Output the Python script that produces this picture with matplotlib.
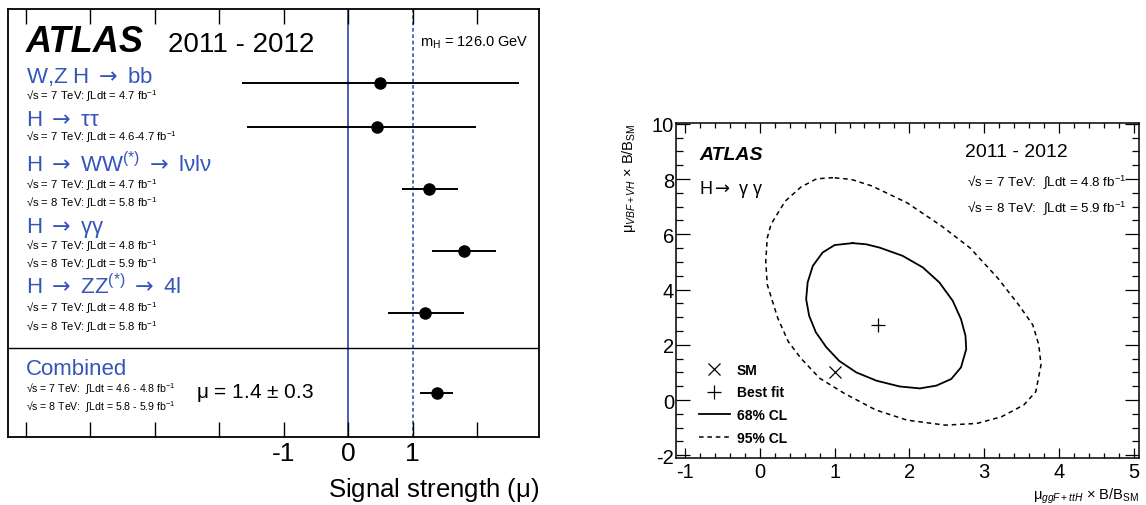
import matplotlib
matplotlib.use("Agg")
import matplotlib.pyplot as plt
from matplotlib.lines import Line2D
from matplotlib.ticker import MultipleLocator

plt.rcParams['font.family'] = ['Liberation Sans', 'DejaVu Sans']
plt.rcParams['mathtext.fontset'] = 'custom'
plt.rcParams['mathtext.rm'] = 'Liberation Sans'
plt.rcParams['mathtext.it'] = 'Liberation Sans:italic'
plt.rcParams['mathtext.bf'] = 'Liberation Sans:bold'
plt.rcParams['mathtext.sf'] = 'DejaVu Sans'
plt.rcParams['axes.unicode_minus'] = False

ARROW = r"$\mathsf{\rightarrow}$"

# ---- left panel data: signal strength per channel ----
channels = ["W,Z H " + ARROW + " bb", "H " + ARROW + " ττ",
            "H " + ARROW + r" W$\mathrm{W}^{(*)}$ " + ARROW + " lνlν",
            "H " + ARROW + " γγ",
            "H " + ARROW + r" Z$\mathrm{Z}^{(*)}$ " + ARROW + " 4l"]
lumi_lines = [
    [r"√s = 7 TeV: ∫Ldt = 4.7 fb$^{-1}$"],
    [r"√s = 7 TeV: ∫Ldt = 4.6-4.7 fb$^{-1}$"],
    [r"√s = 7 TeV: ∫Ldt = 4.7 fb$^{-1}$", r"√s = 8 TeV: ∫Ldt = 5.8 fb$^{-1}$"],
    [r"√s = 7 TeV: ∫Ldt = 4.8 fb$^{-1}$", r"√s = 8 TeV: ∫Ldt = 5.9 fb$^{-1}$"],
    [r"√s = 7 TeV: ∫Ldt = 4.8 fb$^{-1}$", r"√s = 8 TeV: ∫Ldt = 5.8 fb$^{-1}$"],
]
mu = [0.49, 0.44, 1.26, 1.79, 1.19]
mu_lo = [2.14, 2.01, 0.43, 0.49, 0.58]
mu_hi = [2.16, 1.54, 0.45, 0.50, 0.60]

comb_lumi = [r"√s = 7 TeV:  ∫Ldt = 4.6 - 4.8 fb$^{-1}$",
             r"√s = 8 TeV:  ∫Ldt = 5.8 - 5.9 fb$^{-1}$"]
mu_comb = 1.37
mu_comb_lo = 0.25
mu_comb_hi = 0.26

# ---- right panel data: H->gamma gamma likelihood contours ----
cl68_x = [1.24, 1.00, 0.84, 0.71, 0.64, 0.62, 0.66, 0.75, 0.89, 1.06, 1.29, 1.56, 1.87, 2.14,
          2.36, 2.56, 2.69, 2.76, 2.75, 2.69, 2.58, 2.40, 2.18, 1.91, 1.60, 1.42, 1.24]
cl68_y = [5.68, 5.61, 5.34, 4.86, 4.26, 3.65, 3.05, 2.45, 1.91, 1.42, 1.00, 0.70, 0.49, 0.42,
          0.52, 0.76, 1.18, 1.84, 2.33, 2.93, 3.59, 4.26, 4.80, 5.22, 5.52, 5.64, 5.68]
cl95_x = [0.98, 0.76, 0.55, 0.34, 0.15, 0.10, 0.08, 0.10, 0.17, 0.24, 0.38, 0.55, 0.80, 1.13, 1.55,
          1.97, 2.48, 2.90, 3.23, 3.53, 3.69, 3.76, 3.73, 3.65, 3.46, 3.18, 2.81, 2.43, 1.97, 1.50,
          1.22, 0.98]
cl95_y = [8.05, 8.01, 7.71, 7.20, 6.36, 5.87, 5.02, 4.18, 3.57, 2.97, 2.12, 1.51, 0.79, 0.24, -0.36,
          -0.73, -0.91, -0.85, -0.61, -0.18, 0.30, 1.27, 2.00, 2.72, 3.45, 4.42, 5.51, 6.30, 7.14, 7.75,
          7.99, 8.05]
best_fit = (1.58, 2.72)
sm_point = (1.0, 1.0)

BLUE = '#3556b8'
W, H = 1146, 506


def px_box(l, t, r, b):
    return [l / W, 1 - b / H, (r - l) / W, (b - t) / H]


fig = plt.figure(figsize=(W / 100, H / 100), dpi=100)

# ================= left panel =================
ax = fig.add_axes(px_box(8, 10, 539, 438))
ax.set_xlim(-5.28, 2.96)
ax.set_ylim(438, 10)  # y runs in figure pixel rows, top to bottom

row_y = [84, 128, 190, 252, 314]
title_y = [83, 126, 172, 233, 294]
sub_y = [[100], [141], [189, 207], [250, 268], [312, 331]]
comb_row_y = 394
x_text = -5.0

ax.axvline(0, color=BLUE, lw=1.3, zorder=1)
ax.axvline(1, color=BLUE, lw=1.2, ls=(0, (2.2, 1.6)), zorder=1)
ax.axhline(349, color='k', lw=1.0)

ax.errorbar(mu, row_y, xerr=[mu_lo, mu_hi], fmt='o', color='k', ms=8,
            elinewidth=1.4, capsize=0, zorder=3)
ax.errorbar([mu_comb], [comb_row_y], xerr=[[mu_comb_lo], [mu_comb_hi]], fmt='o', color='k',
            ms=8, elinewidth=1.4, capsize=0, zorder=3)

for name, ty, subs, lines in zip(channels, title_y, sub_y, lumi_lines):
    ax.text(x_text, ty, name, color=BLUE, fontsize=16, va='baseline')
    for sy, s in zip(subs, lines):
        ax.text(x_text, sy, s, fontsize=8.1, va='baseline')

ax.text(x_text, 375, "Combined", color=BLUE, fontsize=16, va='baseline')
for sy, s in zip([393, 411], comb_lumi):
    ax.text(x_text, sy, s, fontsize=7.6, va='baseline')
ax.text(-2.36, 398, r"$\mathrm{\mu}$ = 1.4 ± 0.3", fontsize=15, va='baseline')

ax.text(x_text, 52, "ATLAS", fontsize=26, fontweight='bold', fontstyle='italic', va='baseline')
ax.text(-2.8, 52, "2011 - 2012", fontsize=20, va='baseline')
ax.text(1.11, 47, r"m$_{\mathrm{H}}$ = 126.0 GeV", fontsize=10.5, va='baseline')

ax.set_xticks(range(-5, 3))
ax.set_xticklabels(['', '', '', '', '-1', '0', '1', ''])
ax.set_yticks([])
ax.tick_params(axis='x', direction='in', top=True, length=10.5, width=1.0,
               labelsize=19, pad=3)
for sp in ax.spines.values():
    sp.set_linewidth(1.3)
ax.set_xlabel(r"Signal strength ($\mathrm{\mu}$)", fontsize=18.5, loc='right', labelpad=7)

# ================= right panel =================
ax2 = fig.add_axes(px_box(676, 124, 1139, 459))
ax2.set_xlim(-1.12, 5.07)
ax2.set_ylim(-2.1, 10.03)

ax2.plot(cl68_x, cl68_y, color='k', lw=1.3)
ax2.plot(cl95_x, cl95_y, color='k', lw=1.1, ls=(0, (3, 2.5)))
ax2.plot([best_fit[0]], [best_fit[1]], marker='+', color='k', ms=10, mew=0.9, ls='none')
ax2.plot([sm_point[0]], [sm_point[1]], marker='x', color='k', ms=9, mew=0.9, ls='none')

ax2.text(-0.81, 8.72, "ATLAS", fontsize=14, fontweight='bold', fontstyle='italic', va='baseline')
ax2.text(-0.81, 7.48, "H" + ARROW + " γ γ", fontsize=13, va='baseline')
ax2.text(2.75, 8.84, "2011 - 2012", fontsize=14, va='baseline')
ax2.text(2.77, 7.78, r"√s = 7 TeV:  ∫Ldt = 4.8 fb$^{-1}$", fontsize=9.6, va='baseline')
ax2.text(2.77, 6.84, r"√s = 8 TeV:  ∫Ldt = 5.9 fb$^{-1}$", fontsize=9.6, va='baseline')

handles = [
    Line2D([], [], marker='x', color='k', ms=9, mew=0.9, ls='none'),
    Line2D([], [], marker='+', color='k', ms=10, mew=0.9, ls='none'),
    Line2D([], [], color='k', lw=1.3),
    Line2D([], [], color='k', lw=1.1, ls=(0, (3, 2.5))),
]
ax2.legend(handles, ["SM", "Best fit", "68% CL", "95% CL"], loc='lower left',
           bbox_to_anchor=(0.05, 0.04), frameon=False, prop={'weight': 'bold', 'size': 10},
           handlelength=2.2, handletextpad=0.5, labelspacing=0.62, borderpad=0, borderaxespad=0)

ax2.xaxis.set_major_locator(MultipleLocator(1))
ax2.xaxis.set_minor_locator(MultipleLocator(0.2))
ax2.yaxis.set_major_locator(MultipleLocator(2))
ax2.yaxis.set_minor_locator(MultipleLocator(0.5))
ax2.tick_params(which='both', direction='in', top=True, right=True, width=0.9, labelsize=14.5)
ax2.tick_params(axis='x', which='major', length=7, pad=3)
ax2.tick_params(axis='x', which='minor', length=3.6)
ax2.tick_params(axis='y', which='major', length=10, pad=1.5)
ax2.tick_params(axis='y', which='minor', length=5)
for sp in ax2.spines.values():
    sp.set_linewidth(1.1)

ax2.set_xlabel(r"$\mathrm{\mu}_{\mathit{ggF+ttH}}$ × B/B$_{\mathrm{SM}}$", fontsize=10.5,
               loc='right', labelpad=3)
ax2.set_ylabel(r"$\mathrm{\mu}_{\mathit{VBF+VH}}$ × B/B$_{\mathrm{SM}}$", fontsize=10.5,
               loc='top', labelpad=10)

fig.savefig("out.png", dpi=100)
